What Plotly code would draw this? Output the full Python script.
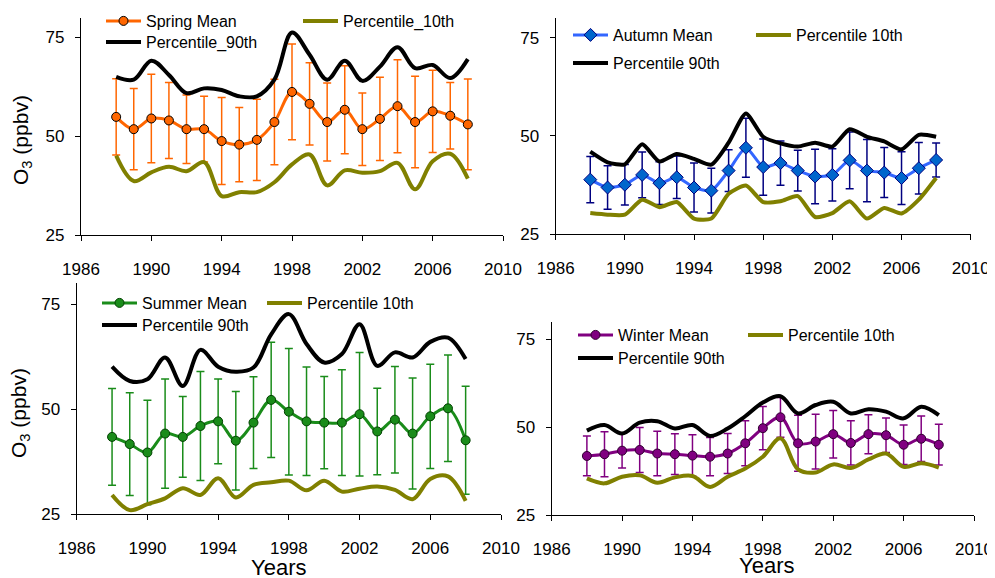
import plotly.graph_objects as go

years = list(range(1988, 2009))

# ---- Spring ----
spring_mean = [54.9, 51.8, 54.5, 54.0, 51.8, 51.8, 48.8, 47.9, 49.1, 53.6, 61.2,
               58.2, 53.6, 56.7, 51.8, 54.4, 57.6, 53.6, 56.3, 55.2, 53.0]
spring_sd = [9.65, 10.25, 11.2, 9.6, 8.65, 8.3, 11.0, 9.35, 10.25, 10.8, 12.1,
             10.4, 9.85, 11.1, 9.15, 10.5, 11.75, 11.55, 10.4, 8.4, 11.45]
spring_p90 = [65.0, 64.3, 69.1, 65.5, 60.9, 62.1, 61.7, 60.1, 60.1, 64.3, 76.2,
              70.6, 64.3, 69.1, 64.0, 67.6, 72.5, 67.2, 68.0, 64.7, 69.5]
spring_p10 = [45.1, 38.7, 40.9, 42.3, 41.2, 43.5, 34.9, 35.9, 35.9, 38.4, 42.9,
              45.4, 37.6, 41.4, 40.8, 41.2, 43.3, 36.6, 43.7, 45.6, 39.3]

# ---- Autumn ----
autumn_mean = [38.9, 36.9, 37.6, 40.1, 38.0, 39.5, 36.9, 36.1, 41.2, 47.0, 42.1,
               43.1, 41.2, 39.7, 40.1, 43.8, 41.2, 40.7, 39.3, 41.8, 43.9]
autumn_sd = [5.9, 5.5, 5.15, 5.8, 5.45, 5.4, 6.2, 5.7, 5.3, 7.5, 7.15,
             5.65, 5.2, 6.95, 6.65, 7.2, 7.9, 6.35, 6.7, 6.55, 4.3]
autumn_p90 = [46.0, 43.3, 42.8, 47.9, 43.5, 45.4, 44.2, 42.7, 48.3, 55.7, 49.8,
              48.1, 47.3, 48.3, 47.3, 51.7, 49.8, 48.6, 46.6, 50.3, 49.8]
autumn_p10 = [30.4, 30.0, 30.0, 33.8, 31.9, 33.2, 29.0, 29.0, 35.3, 37.4, 33.2,
              33.4, 34.7, 29.4, 30.4, 33.4, 29.0, 31.7, 30.3, 33.8, 39.3]

# ---- Summer ----
summer_mean = [43.4, 41.7, 39.7, 44.2, 43.4, 46.0, 47.1, 42.5, 46.8, 52.2, 49.4,
               47.1, 46.8, 46.8, 48.8, 44.7, 47.5, 44.2, 48.3, 50.2, 42.6]
summer_sd = [11.5, 12.2, 12.4, 13.0, 9.6, 12.95, 10.1, 11.7, 10.9, 13.7, 15.05,
             12.9, 10.95, 12.55, 14.7, 10.3, 12.65, 13.2, 12.4, 12.65, 12.85]
summer_p90 = [60.1, 56.7, 57.1, 62.3, 55.5, 64.1, 60.1, 58.9, 59.9, 67.8, 72.6,
              65.5, 61.1, 63.1, 70.2, 60.3, 63.5, 62.3, 66.0, 67.0, 61.9]
summer_p10 = [29.6, 26.0, 27.4, 28.8, 31.2, 29.6, 33.6, 29.0, 32.0, 32.6, 33.0,
              30.7, 33.0, 30.4, 31.1, 31.6, 30.8, 28.6, 33.4, 34.0, 28.2]

# ---- Winter ----
winter_mean = [41.8, 42.3, 43.3, 43.5, 42.5, 42.3, 41.9, 41.6, 42.5, 45.4, 49.7,
               52.8, 45.4, 45.9, 48.0, 45.5, 48.0, 47.7, 45.0, 46.7, 45.0]
winter_sd = [5.65, 6.4, 4.95, 6.4, 6.35, 5.8, 5.9, 5.45, 5.7, 6.4, 6.15,
             5.65, 7.95, 7.8, 6.75, 6.3, 5.55, 4.9, 5.6, 6.5, 5.8]
winter_p90 = [49.0, 50.6, 48.2, 51.3, 51.7, 49.6, 50.6, 47.5, 49.6, 53.1, 57.0,
              58.8, 53.9, 56.3, 57.2, 53.9, 55.1, 54.4, 52.5, 55.8, 53.4]
winter_p10 = [35.4, 34.0, 35.9, 36.3, 34.2, 35.7, 36.1, 33.0, 35.9, 38.2, 41.6,
              46.8, 38.0, 37.1, 39.4, 38.4, 40.8, 42.5, 38.7, 39.7, 38.5]

x_ticks = [1986, 1990, 1994, 1998, 2002, 2006, 2010]
y_ticks = [25, 50, 75]
y_title = "O<sub>3</sub> (ppbv)"
x_title = "Years"

FONT = "Liberation Sans, Arial, sans-serif"
OLIVE = "#808000"

W, H = 995, 578
OFF = 8  # page body margin: figure starts 8px right/down in the screenshot


def fx(px):
    return (px - OFF) / W


def fy(py):
    return 1 - (py - OFF) / H


# layout geometry in screenshot pixels
panels = [
    dict(name="Spring Mean", p10name="Percentile_10th", p90name="Percentile_90th",
         mean=spring_mean, sd=spring_sd, p90=spring_p90, p10=spring_p10,
         line="#FF6600", mfill="#FF6600", mline="#000000", err="#FF6600",
         symbol="circle", smooth=1.0,
         xd=(81, 503), yd=(235.3, 17.5),
         leg_x=106, leg_y1=21, leg_y2=42, lw=147,
         ytitle=(22, 140), xtitle=None),
    dict(name="Autumn Mean", p10name="Percentile 10th", p90name="Percentile 90th",
         mean=autumn_mean, sd=autumn_sd, p90=autumn_p90, p10=autumn_p10,
         line="#3366FF", mfill="#0066CC", mline="#000080", err="#000080",
         symbol="diamond", smooth=0.6,
         xd=(555.7, 970.7), yd=(234.3, 18),
         leg_x=573, leg_y1=35, leg_y2=63, lw=133,
         ytitle=None, xtitle=None),
    dict(name="Summer Mean", p10name="Percentile 10th", p90name="Percentile 90th",
         mean=summer_mean, sd=summer_sd, p90=summer_p90, p10=summer_p10,
         line="#1A8C1A", mfill="#1A8C1A", mline="#004000", err="#1A8C1A",
         symbol="circle", smooth=1.0,
         xd=(76.7, 501), yd=(514.3, 283),
         leg_x=102, leg_y1=303, leg_y2=325, lw=115,
         ytitle=(20, 413), xtitle=(278, 567)),
    dict(name="Winter Mean", p10name="Percentile 10th", p90name="Percentile 90th",
         mean=winter_mean, sd=winter_sd, p90=winter_p90, p10=winter_p10,
         line="#800080", mfill="#800080", mline="#300030", err="#800080",
         symbol="circle", smooth=1.0,
         xd=(551.7, 974), yd=(515, 321.7),
         leg_x=578, leg_y1=335, leg_y2=358, lw=120,
         ytitle=None, xtitle=(766, 565)),
]

fig = go.Figure()
layout = dict(
    width=W, height=H, margin=dict(l=0, r=0, t=0, b=0, autoexpand=False),
    paper_bgcolor="white", plot_bgcolor="white",
    font=dict(family=FONT, size=16, color="black"),
)
annotations = []

for i, p in enumerate(panels):
    k = i + 1
    xa = "x" if k == 1 else f"x{k}"
    ya = "y" if k == 1 else f"y{k}"
    la = f"legend{2*i+1}" if i > 0 else "legend"
    lb = f"legend{2*i+2}"
    fig.add_trace(go.Scatter(
        x=years, y=p["mean"], name=p["name"], mode="lines+markers",
        xaxis=xa, yaxis=ya, legend=la, legendwidth=p["lw"],
        line=dict(color=p["line"], width=3, shape="spline", smoothing=p["smooth"]),
        marker=dict(symbol=p["symbol"], size=9 if p["symbol"] == "circle" else 10,
                    color=p["mfill"], line=dict(color=p["mline"], width=1)),
        error_y=dict(type="data", array=p["sd"], visible=True, color=p["err"],
                     thickness=1.5, width=4),
    ))
    fig.add_trace(go.Scatter(
        x=years, y=p["p10"], name=p["p10name"], mode="lines",
        xaxis=xa, yaxis=ya, legend=la,
        line=dict(color=OLIVE, width=4, shape="spline", smoothing=p["smooth"]),
    ))
    fig.add_trace(go.Scatter(
        x=years, y=p["p90"], name=p["p90name"], mode="lines",
        xaxis=xa, yaxis=ya, legend=lb,
        line=dict(color="black", width=4, shape="spline", smoothing=p["smooth"]),
    ))

    axkey_x = "xaxis" if k == 1 else f"xaxis{k}"
    axkey_y = "yaxis" if k == 1 else f"yaxis{k}"
    layout[axkey_x] = dict(
        domain=[fx(p["xd"][0]), fx(p["xd"][1])], anchor=ya, range=[1986, 2010],
        tickmode="array", tickvals=x_ticks, ticks="outside", ticklen=5,
        tickwidth=1.3, tickcolor="black", showline=True, linecolor="black",
        linewidth=1.3, showgrid=False, zeroline=False, ticklabelstandoff=13,
        automargin=False, tickfont=dict(family=FONT, size=17, color="black"),
    )
    layout[axkey_y] = dict(
        domain=[fy(p["yd"][0]), fy(p["yd"][1])], anchor=xa, range=[25, 80],
        tickmode="array", tickvals=y_ticks, ticks="outside", ticklen=5,
        tickwidth=1.3, tickcolor="black", showline=True, linecolor="black",
        linewidth=1.3, showgrid=False, zeroline=False, ticklabelstandoff=7,
        automargin=False, tickfont=dict(family=FONT, size=17, color="black"),
    )
    for name, ypix in ((la, p["leg_y1"]), (lb, p["leg_y2"])):
        layout[name] = dict(
            x=fx(p["leg_x"] - 5), y=fy(ypix), xanchor="left", yanchor="middle",
            orientation="h", bgcolor="rgba(0,0,0,0)", borderwidth=0,
            itemwidth=35, tracegroupgap=0,
            font=dict(family=FONT, size=16, color="black"),
        )
    if p["ytitle"]:
        tx, ty = p["ytitle"]
        annotations.append(dict(
            text=y_title, x=fx(tx), y=fy(ty), xref="paper", yref="paper",
            xanchor="center", yanchor="middle", textangle=-90, showarrow=False,
            font=dict(family=FONT, size=21, color="black")))
    if p["xtitle"]:
        tx, ty = p["xtitle"]
        annotations.append(dict(
            text=x_title, x=fx(tx), y=fy(ty), xref="paper", yref="paper",
            xanchor="center", yanchor="middle", showarrow=False,
            font=dict(family=FONT, size=22, color="black")))

layout["annotations"] = annotations
fig.update_layout(**layout)
fig.write_html("out.html")
